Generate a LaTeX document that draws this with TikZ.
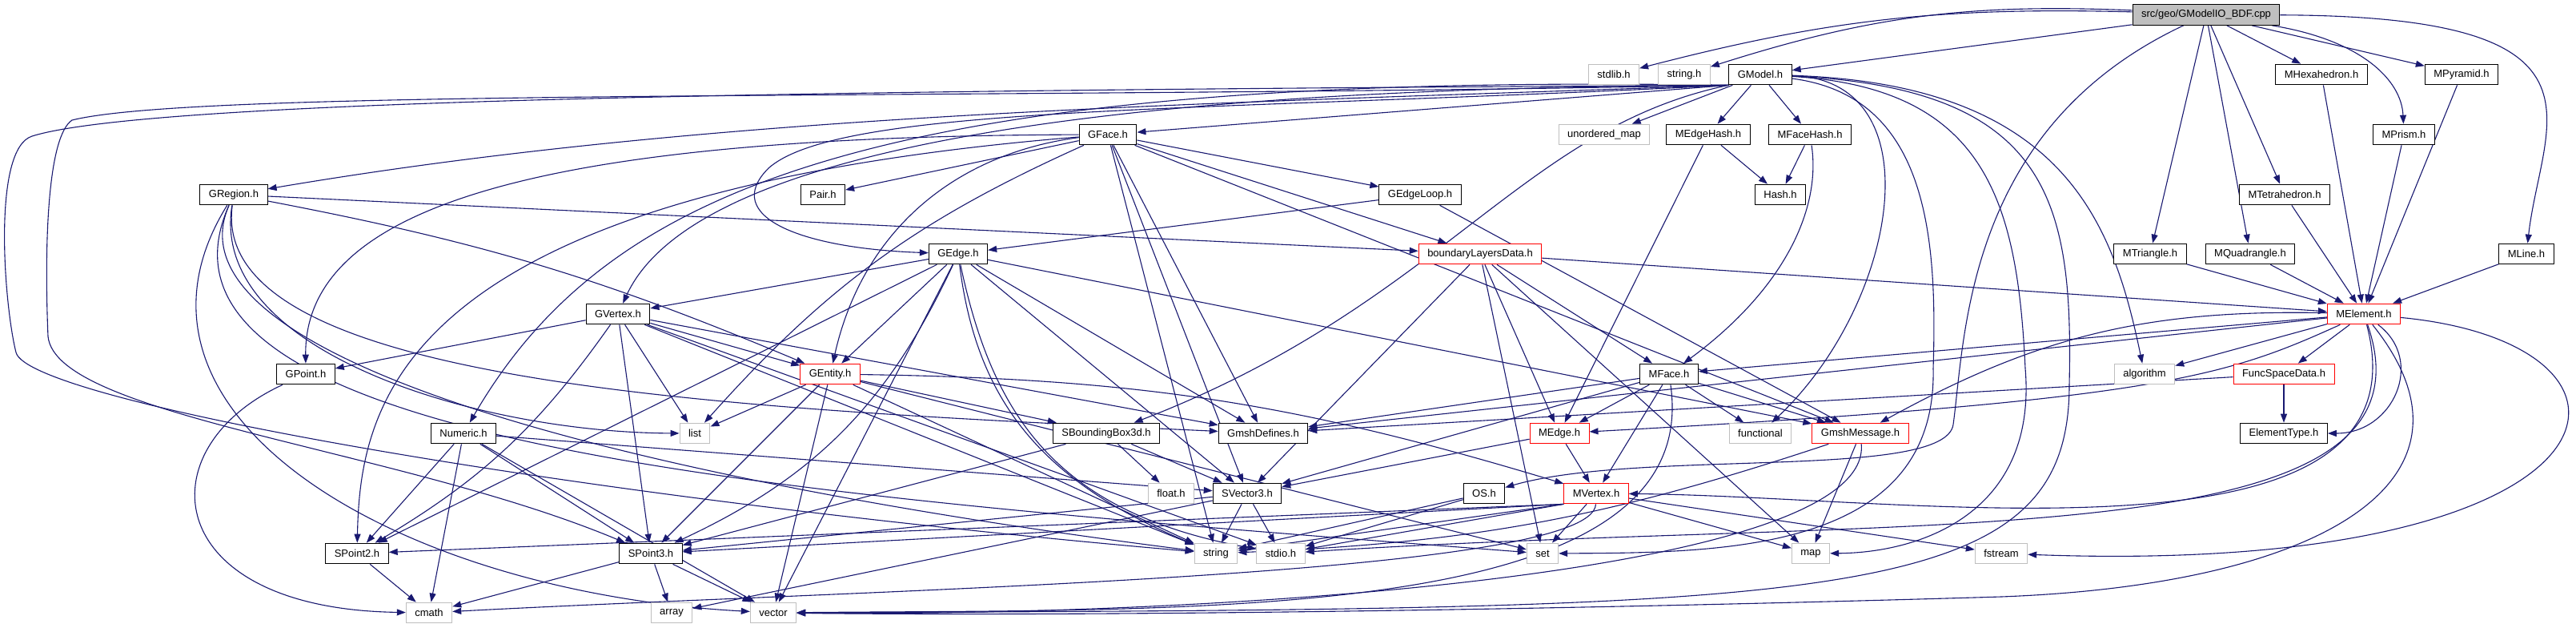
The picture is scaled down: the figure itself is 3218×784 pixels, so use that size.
\documentclass[tikz,border=0pt]{standalone}
\usepackage{fontspec}
\setmainfont{Liberation Sans}
\usepackage{xcolor}
\usepackage{tikz}
\usetikzlibrary{arrows.meta,backgrounds}
\definecolor{edgeblue}{HTML}{191970}
\definecolor{extgray}{HTML}{BFBFBF}

\begin{document}
\begin{tikzpicture}[x=1pt,y=-1pt,
  incbox/.style={draw,line width=1pt,fill=white,minimum height=25.7pt,inner xsep=11pt,inner ysep=0pt,font=\fontsize{13}{15}\selectfont},
  hdr/.style={incbox,draw=black},
  trunc/.style={incbox,draw=red},
  sys/.style={incbox,draw=extgray},
  srcfile/.style={incbox,draw=black,fill=extgray},
  dep/.style={draw=edgeblue,line width=1.1pt,-{Triangle[length=11pt,width=8pt]}}]
  \useasboundingbox (0,0) rectangle (3218,784);
  \node[srcfile] (root) at (2756,18.5) {src/geo/GModelIO\_BDF.cpp};
  \node[sys] (stdlibh) at (2016,93) {stdlib.h};
  \node[sys] (stringh) at (2104,93) {string.h};
  \node[hdr] (gmodel) at (2199,93) {GModel.h};
  \node[hdr] (mhexa) at (2900,93) {MHexahedron.h};
  \node[hdr] (mpyramid) at (3075,93) {MPyramid.h};
  \node[hdr] (gface) at (1384,168) {GFace.h};
  \node[sys] (umap) at (2004,168) {unordered\_map};
  \node[hdr] (medgehash) at (2134,168) {MEdgeHash.h};
  \node[hdr] (mfacehash) at (2261,168) {MFaceHash.h};
  \node[hdr] (mprism) at (3003,168) {MPrism.h};
  \node[hdr] (gregion) at (292,243) {GRegion.h};
  \node[hdr] (pair) at (1028,243) {Pair.h};
  \node[hdr] (gedgeloop) at (1774,243) {GEdgeLoop.h};
  \node[hdr] (hash) at (2224,243) {Hash.h};
  \node[hdr] (mtetra) at (2854,243) {MTetrahedron.h};
  \node[hdr] (gedge) at (1197,317) {GEdge.h};
  \node[trunc] (bldata) at (1849,317) {boundaryLayersData.h};
  \node[hdr] (mtri) at (2686,317) {MTriangle.h};
  \node[hdr] (mquad) at (2811,317) {MQuadrangle.h};
  \node[hdr] (mline) at (3156,317) {MLine.h};
  \node[hdr] (gvertex) at (772,392) {GVertex.h};
  \node[trunc] (melement) at (2953,392) {MElement.h};
  \node[hdr] (gpoint) at (382,467) {GPoint.h};
  \node[trunc] (gentity) at (1037,467) {GEntity.h};
  \node[hdr] (mface) at (2085,467) {MFace.h};
  \node[sys] (algorithm) at (2679,467) {algorithm};
  \node[trunc] (funcspace) at (2853,467) {FuncSpaceData.h};
  \node[hdr] (numeric) at (579,541) {Numeric.h};
  \node[sys] (listx) at (868,541) {list};
  \node[hdr] (sbbox) at (1382,541) {SBoundingBox3d.h};
  \node[hdr] (gmshdefs) at (1578,541) {GmshDefines.h};
  \node[trunc] (medge) at (1948,541) {MEdge.h};
  \node[sys] (functional) at (2199,541) {functional};
  \node[trunc] (gmshmsg) at (2324,541) {GmshMessage.h};
  \node[hdr] (elemtype) at (2853,541) {ElementType.h};
  \node[sys] (floath) at (1463,616) {float.h};
  \node[hdr] (svector) at (1558,616) {SVector3.h};
  \node[hdr] (osh) at (1854,616) {OS.h};
  \node[trunc] (mvertex) at (1994,616) {MVertex.h};
  \node[hdr] (spoint2) at (446,691) {SPoint2.h};
  \node[hdr] (spoint3) at (813,691) {SPoint3.h};
  \node[sys] (stringx) at (1519,691) {string};
  \node[sys] (stdioh) at (1600,691) {stdio.h};
  \node[sys] (setx) at (1927,691) {set};
  \node[sys] (mapx) at (2262,691) {map};
  \node[sys] (fstream) at (2500,691) {fstream};
  \node[sys] (cmath) at (536,765) {cmath};
  \node[sys] (arrayx) at (839,765) {array};
  \node[sys] (vectorx) at (966,765) {vector};
  \begin{scope}[on background layer]
  \draw[dep] (root) to[bend right=8] (stdlibh);
  \draw[dep] (root) to[bend right=10] (stringh);
  \draw[dep] (root) -- (gmodel);
  \draw[dep] (root) -- (mhexa);
  \draw[dep] (root) -- (mpyramid);
  \draw[dep] (root) .. controls (2950,50) and (3000,100) .. (mprism);
  \draw[dep] (root) -- (mtetra);
  \draw[dep] (root) -- (mtri);
  \draw[dep] (root) -- (mquad);
  \draw[dep] (root) .. controls (3280,20) and (3175,150) .. (mline);
  \draw[dep] (root) .. controls (2455,160) and (2455,420) .. (2440,530) .. controls (2430,600) and (2050,560) .. (osh);
  \draw[dep] (gmodel.south west) -- (gface);
  \draw[dep] (gmodel.south west) .. controls (1500,130) and (900,140) .. (gregion);
  \draw[dep] (gmodel.south west) .. controls (1500,140) and (1050,130) .. (960,210) .. controls (900,270) and (1000,310) .. (gedge);
  \draw[dep] (gmodel.south west) .. controls (1300,110) and (860,200) .. (gvertex);
  \draw[dep] (gmodel) -- (umap);
  \draw[dep] (gmodel) -- (medgehash);
  \draw[dep] (gmodel) -- (mfacehash);
  \draw[dep] (gmodel.south west) .. controls (1900,160) and (1800,380) .. (sbbox);
  \draw[dep] (gmodel) .. controls (2580,105) and (2640,280) .. (algorithm);
  \draw[dep] (gmodel) .. controls (2420,100) and (2370,380) .. (functional);
  \draw[dep] (gmodel) .. controls (2410,120) and (2420,300) .. (2415,460) .. controls (2420,690) and (2150,690) .. (setx);
  \draw[dep] (gmodel) .. controls (2480,110) and (2520,250) .. (2530,460) .. controls (2545,640) and (2400,690) .. (mapx);
  \draw[dep] (gmodel) .. controls (2560,110) and (2590,250) .. (2585,480) .. controls (2585,760) and (2300,760) .. (vectorx);
  \draw[dep] (gmodel.south west) .. controls (1200,112) and (200,120) .. (40,170) .. controls (-10,186) and (5,380) .. (20,440) .. controls (35,500) and (700,620) .. (stringx);
  \draw[dep] (gmodel.south west) .. controls (1200,125) and (250,110) .. (90,150) .. controls (60,170) and (55,300) .. (60,420) .. controls (70,520) and (500,560) .. (spoint3);
  \draw[dep] (gmodel.south west) .. controls (1100,90) and (760,230) .. (numeric);
  \draw[dep] (gface) -- (pair);
  \draw[dep] (gface) -- (gedgeloop);
  \draw[dep] (gface) -- (bldata);
  \draw[dep] (gface) to[bend right=35] (gentity);
  \draw[dep] (gface) .. controls (700,170) and (380,250) .. (gpoint);
  \draw[dep] (gface) .. controls (500,240) and (450,500) .. (spoint2);
  \draw[dep] (gface) to[bend right=12] (listx);
  \draw[dep] (gface) -- (stringx);
  \draw[dep] (gface) -- (gmshdefs);
  \draw[dep] (gface) -- (svector);
  \draw[dep] (gface) -- (gmshmsg);
  \draw[dep] (gedgeloop) -- (gedge);
  \draw[dep] (gedgeloop) -- (gmshmsg);
  \draw[dep] (gregion) to[bend left=6] (gentity);
  \draw[dep] (gregion) -- (bldata);
  \draw[dep] (gregion) .. controls (260,480) and (900,510) .. (gmshdefs);
  \draw[dep] (gregion) .. controls (260,440) and (600,540) .. (listx);
  \draw[dep] (gregion) .. controls (120,520) and (500,740) .. (vectorx);
  \draw[dep] (gregion) .. controls (150,560) and (1000,620) .. (setx);
  \draw[dep] (gregion) .. controls (200,450) and (800,600) .. (stringx);
  \draw[dep] (gedge) -- (gvertex);
  \draw[dep] (gedge) -- (gentity);
  \draw[dep] (gedge) -- (spoint2);
  \draw[dep] (gedge) to[bend left=20] (spoint3);
  \draw[dep] (gedge) -- (vectorx);
  \draw[dep] (gedge) .. controls (1220,500) and (1300,600) .. (stringx);
  \draw[dep] (gedge) .. controls (1240,520) and (1320,640) .. (stdioh);
  \draw[dep] (gedge) -- (svector);
  \draw[dep] (gedge) -- (gmshdefs);
  \draw[dep] (gedge) -- (gmshmsg);
  \draw[dep] (gvertex) -- (gpoint);
  \draw[dep] (gvertex) to[bend left=12] (spoint2);
  \draw[dep] (gvertex) -- (spoint3);
  \draw[dep] (gvertex) -- (listx);
  \draw[dep] (gvertex) -- (gentity);
  \draw[dep] (gvertex) -- (gmshdefs);
  \draw[dep] (gvertex) -- (stringx);
  \draw[dep] (gvertex) -- (stdioh);
  \draw[dep] (gpoint) .. controls (180,560) and (200,760) .. (cmath);
  \draw[dep] (gentity) -- (listx);
  \draw[dep] (gentity) -- (spoint3);
  \draw[dep] (gentity) -- (vectorx);
  \draw[dep] (gentity) -- (stringx);
  \draw[dep] (gentity) -- (sbbox);
  \draw[dep] (gentity) -- (setx);
  \draw[dep] (gentity) to[bend left=8] (mvertex);
  \draw[dep] (numeric) -- (spoint2);
  \draw[dep] (numeric) -- (cmath);
  \draw[dep] (numeric) -- (spoint3);
  \draw[dep] (numeric) -- (vectorx);
  \draw[dep] (numeric) -- (svector);
  \draw[dep] (sbbox) -- (floath);
  \draw[dep] (sbbox) -- (svector);
  \draw[dep] (sbbox) -- (spoint3);
  \draw[dep] (svector) -- (spoint3);
  \draw[dep] (svector) -- (stringx);
  \draw[dep] (svector) -- (stdioh);
  \draw[dep] (svector) -- (arrayx);
  \draw[dep] (spoint2) -- (cmath);
  \draw[dep] (spoint3) -- (cmath);
  \draw[dep] (spoint3) -- (arrayx);
  \draw[dep] (spoint3) -- (vectorx);
  \draw[dep] (bldata) -- (melement);
  \draw[dep] (bldata) -- (svector);
  \draw[dep] (bldata) -- (medge);
  \draw[dep] (bldata) -- (mface);
  \draw[dep] (bldata) -- (setx);
  \draw[dep] (bldata) -- (mapx);
  \draw[dep] (medgehash) -- (medge);
  \draw[dep] (medgehash) -- (hash);
  \draw[dep] (mfacehash) .. controls (2275,260) and (2230,360) .. (mface);
  \draw[dep] (mfacehash) -- (hash);
  \draw[dep] (mface) -- (gmshdefs);
  \draw[dep] (mface) -- (medge);
  \draw[dep] (mface) -- (mvertex);
  \draw[dep] (mface) -- (svector);
  \draw[dep] (mface) -- (functional);
  \draw[dep] (mface) -- (gmshmsg);
  \draw[dep] (mface) .. controls (2130,780) and (1500,760) .. (vectorx);
  \draw[dep] (medge) -- (mvertex);
  \draw[dep] (medge) -- (svector);
  \draw[dep] (mvertex.south west) -- (spoint2);
  \draw[dep] (mvertex.south west) -- (spoint3);
  \draw[dep] (mvertex.south west) -- (stringx);
  \draw[dep] (mvertex.south west) -- (stdioh);
  \draw[dep] (mvertex) -- (setx);
  \draw[dep] (mvertex) -- (mapx);
  \draw[dep] (mvertex) -- (fstream);
  \draw[dep] (mvertex) .. controls (1990,720) and (1100,735) .. (cmath);
  \draw[dep] (osh) -- (stringx);
  \draw[dep] (osh) -- (stdioh);
  \draw[dep] (gmshmsg) -- (mapx);
  \draw[dep] (gmshmsg) to[bend left=8] (stringx);
  \draw[dep] (gmshmsg) .. controls (2340,720) and (1500,770) .. (vectorx);
  \draw[dep] (mtri) -- (melement);
  \draw[dep] (mquad) -- (melement);
  \draw[dep] (mtetra) -- (melement);
  \draw[dep] (mhexa) -- (melement);
  \draw[dep] (mprism) -- (melement);
  \draw[dep] (mpyramid) -- (melement);
  \draw[dep] (mline) -- (melement);
  \draw[dep] (melement) -- (mface);
  \draw[dep] (melement) -- (algorithm);
  \draw[dep] (melement) to[bend right=15] (gmshmsg);
  \draw[dep] (melement) -- (funcspace);
  \draw[dep] (melement) .. controls (2780,470) and (2700,500) .. (medge);
  \draw[dep] (melement) -- (gmshdefs);
  \draw[dep] (melement) .. controls (3030,450) and (2990,541) .. (elemtype);
  \draw[dep] (melement) .. controls (3040,720) and (2400,620) .. (mvertex);
  \draw[dep] (melement) .. controls (3060,700) and (2400,640) .. (stdioh);
  \draw[dep] (melement) .. controls (3350,430) and (3300,720) .. (fstream);
  \draw[dep] (melement) .. controls (3120,600) and (2900,730) .. (2500,745) .. controls (2000,760) and (1400,770) .. (vectorx);
  \draw[dep] (funcspace) -- (elemtype);
  \draw[dep] (funcspace) -- (gmshdefs);
  \end{scope}
\end{tikzpicture}
\end{document}
